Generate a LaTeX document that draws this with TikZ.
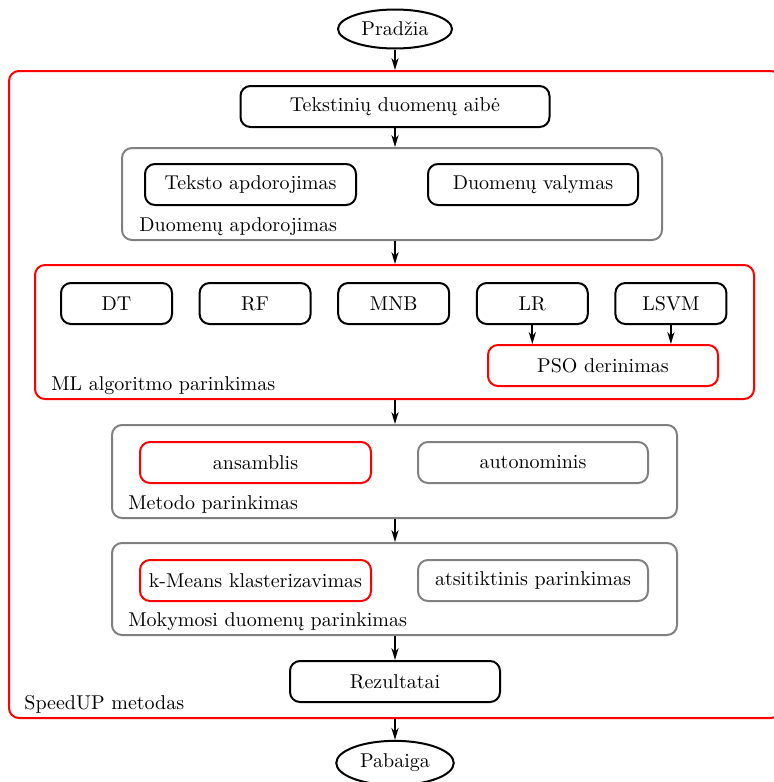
\documentclass[tikz,border=0pt]{standalone}
\usepackage{fontspec}
\usetikzlibrary{arrows.meta,shapes.geometric}
\usetikzlibrary{positioning}

\begin{document}
\begin{tikzpicture}[x=0.5pt,y=-0.5pt,>={Stealth[length=6pt,width=3.6pt]}]

        \tikzstyle{blok}=[draw,line width=1pt,rectangle,rounded corners=5pt,minimum height=20.5pt,align=center]
        \tikzstyle{grupe}=[draw=gray,line width=1pt,rectangle,rounded corners=5pt]
        \tikzstyle{raudona}=[draw=red,line width=1pt,rectangle,rounded corners=5pt]
        \tikzstyle{antraste}=[anchor=base west,inner sep=0pt]
        \tikzstyle{galas}=[draw,line width=1pt,ellipse,minimum width=57pt,minimum height=19.5pt]
        \tikzstyle{rodykle}=[->,line width=0.9pt]

        \useasboundingbox (0,0) rectangle (774,782);

        \node[galas] (pradzia) at (395,29) {Pradžia};
        \node[raudona,minimum width=386pt,minimum height=323.5pt] (speedup) at (395,394.5) {};
        \node[antraste] at ([xshift=8pt,yshift=5pt]speedup.south west) {SpeedUP metodas};

        \node[blok,minimum width=154.5pt] (aibe) at (395,106.5) {Tekstinių duomenų aibė};

        \node[grupe,minimum width=270pt,minimum height=46pt] (apdorojimas) at (392,194) {};
        \node[antraste] at ([xshift=9pt,yshift=5pt]apdorojimas.south west) {Duomenų apdorojimas};
        \node[blok,minimum width=105.5pt] (teksto) at (250.5,184.5) {Teksto apdorojimas};
        \node[blok,minimum width=105pt] (valymas) at (533,184.5) {Duomenų valymas};

        \node[raudona,minimum width=359.5pt,minimum height=67pt] (ml) at (394.5,332) {};
        \node[antraste] at ([xshift=8.5pt,yshift=5pt]ml.south west) {ML algoritmo parinkimas};
        \foreach \i / \alg in {0/DT,1/RF,2/MNB,3/LR,4/LSVM} {
            \node[blok,minimum width=55.5pt] (alg_\i) at (116.5+\i*138.6,303.5) {\alg};
        }
        \node[raudona,minimum width=115pt,minimum height=20.5pt] (pso) at (603,365.5) {PSO derinimas};
        \draw[rodykle] (alg_3.south) -- (alg_3.south |- pso.north);
        \draw[rodykle] (alg_4.south) -- (alg_4.south |- pso.north);

        \node[grupe,minimum width=282.5pt,minimum height=46.5pt] (metodo) at (394.5,471.5) {};
        \node[antraste] at ([xshift=8.5pt,yshift=5pt]metodo.south west) {Metodo parinkimas};
        \node[raudona,minimum width=115.5pt,minimum height=20.5pt] (ansamblis) at (255.5,462.5) {ansamblis};
        \node[grupe,minimum width=115pt,minimum height=20.5pt] (autonominis) at (533,462.5) {autonominis};

        \node[grupe,minimum width=282.5pt,minimum height=46pt] (mokymosi) at (394.5,589) {};
        \node[antraste] at ([xshift=8.5pt,yshift=5pt]mokymosi.south west) {Mokymosi duomenų parinkimas};
        \node[raudona,minimum width=115.5pt,minimum height=20.5pt] (kmeans) at (255.5,580.5) {k-Means klasterizavimas};
        \node[grupe,minimum width=115pt,minimum height=20.5pt] (atsitiktinis) at (533,580.5) {atsitiktinis parinkimas};

        \node[blok,minimum width=105pt] (rezultatai) at (395,681.5) {Rezultatai};
        \node[galas] (pabaiga) at (395,763) {Pabaiga};

        \draw[rodykle] (pradzia.south) -- (speedup.north);
        \draw[rodykle] (aibe.south) -- (aibe.south |- apdorojimas.north);
        \draw[rodykle] (aibe.south |- apdorojimas.south) -- (aibe.south |- ml.north);
        \draw[rodykle] (aibe.south |- ml.south) -- (aibe.south |- metodo.north);
        \draw[rodykle] (aibe.south |- metodo.south) -- (aibe.south |- mokymosi.north);
        \draw[rodykle] (aibe.south |- mokymosi.south) -- (rezultatai.north);
        \draw[rodykle] (speedup.south) -- (pabaiga.north);

\end{tikzpicture}
\end{document}
